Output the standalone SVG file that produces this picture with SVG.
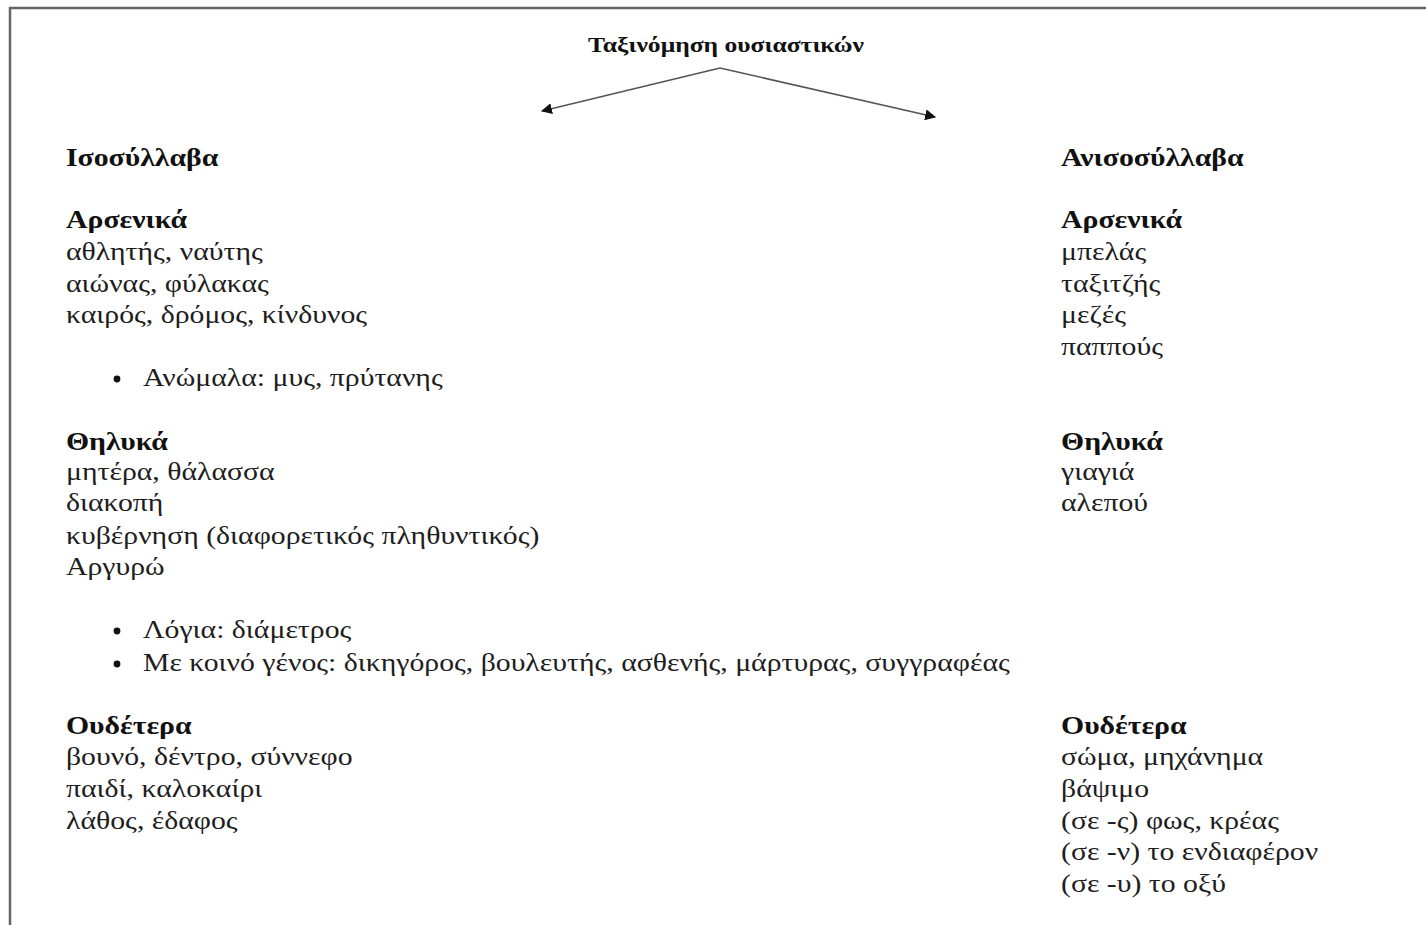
<svg xmlns="http://www.w3.org/2000/svg" width="1426" height="925" viewBox="0 0 1426 925">
<style>
text{font-family:"Liberation Serif","Times New Roman",serif;fill:#1e1e1e;font-size:25px}
.b{font-weight:bold;fill:#111}
.t{font-weight:bold;font-size:21.5px;fill:#111}
.c{stroke:#555;stroke-width:1.6;fill:none}
.dot{fill:#111}
</style>
<defs>
<marker id="ah" viewBox="0 0 10 10" refX="9" refY="5" markerWidth="11" markerHeight="11" markerUnits="userSpaceOnUse" orient="auto">
<path d="M0,0 L10,5 L0,10 z" fill="#111"/>
</marker>
</defs>
<rect width="1426" height="925" fill="#fff"/>
<path d="M10,925 V8 H1426" fill="none" stroke="#666" stroke-width="2.5"/>
<g id="title"><text class="t" x="726" y="52" text-anchor="middle" transform="translate(726,0) scale(1.19,1) translate(-726,0)">Ταξινόμηση ουσιαστικών</text></g>
<g id="connectors">
<line class="c" x1="720" y1="68" x2="542" y2="111" marker-end="url(#ah)"/>
<line class="c" x1="720" y1="68" x2="935" y2="117" marker-end="url(#ah)"/>
</g>
<g id="isosyllaba">
<g transform="translate(66,0) scale(1.19,1) translate(-66,0)">
<text class="b" x="66" y="166">Ισοσύλλαβα</text>
<text class="b" x="66" y="228">Αρσενικά</text>
<text x="66" y="260">αθλητής, ναύτης</text>
<text x="66" y="292">αιώνας, φύλακας</text>
<text x="66" y="323">καιρός, δρόμος, κίνδυνος</text>
<text x="130.7" y="386">Ανώμαλα: μυς, πρύτανης</text>
<text class="b" x="66" y="450">Θηλυκά</text>
<text x="66" y="480">μητέρα, θάλασσα</text>
<text x="66" y="511">διακοπή</text>
<text x="66" y="544">κυβέρνηση (διαφορετικός πληθυντικός)</text>
<text x="66" y="575">Αργυρώ</text>
<text x="130.7" y="638">Λόγια: διάμετρος</text>
<text x="130.7" y="671">Με κοινό γένος: δικηγόρος, βουλευτής, ασθενής, μάρτυρας, συγγραφέας</text>
<text class="b" x="66" y="734">Ουδέτερα</text>
<text x="66" y="765">βουνό, δέντρο, σύννεφο</text>
<text x="66" y="797">παιδί, καλοκαίρι</text>
<text x="66" y="829">λάθος, έδαφος</text>
</g>
<circle class="dot" cx="117" cy="379" r="3.4"/>
<circle class="dot" cx="117" cy="631" r="3.4"/>
<circle class="dot" cx="117" cy="664" r="3.4"/>
</g>
<g id="anisosyllaba">
<g transform="translate(1061,0) scale(1.19,1) translate(-1061,0)">
<text class="b" x="1061" y="166">Ανισοσύλλαβα</text>
<text class="b" x="1061" y="228">Αρσενικά</text>
<text x="1061" y="260">μπελάς</text>
<text x="1061" y="292">ταξιτζής</text>
<text x="1061" y="323">μεζές</text>
<text x="1061" y="355">παππούς</text>
<text class="b" x="1061" y="450">Θηλυκά</text>
<text x="1061" y="480">γιαγιά</text>
<text x="1061" y="511">αλεπού</text>
<text class="b" x="1061" y="734">Ουδέτερα</text>
<text x="1061" y="765">σώμα, μηχάνημα</text>
<text x="1061" y="797">βάψιμο</text>
<text x="1061" y="829">(σε -ς) φως, κρέας</text>
<text x="1061" y="860">(σε -ν) το ενδιαφέρον</text>
<text x="1061" y="892">(σε -υ) το οξύ</text>
</g>
</g>
</svg>
